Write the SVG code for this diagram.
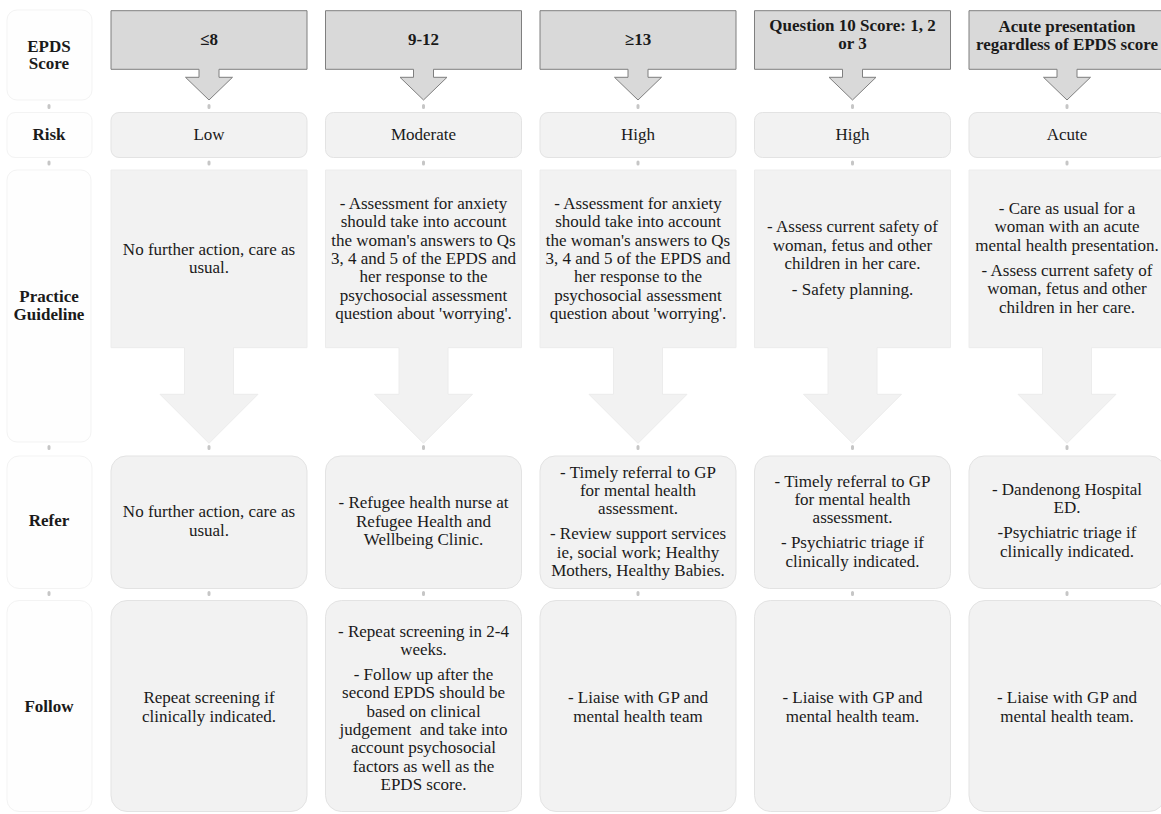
<svg xmlns="http://www.w3.org/2000/svg" width="1161" height="814" viewBox="0 0 1161 814">
<style>
.hdr{fill:#d9d9d9;stroke:#7f7f7f;stroke-width:1}
.row{fill:#f2f2f2;stroke:#e3e3e3;stroke-width:1}
.pg{fill:#f2f2f2;stroke:#ececec;stroke-width:1}
.lbl{fill:#fefefe;stroke:#f3f3f3;stroke-width:1}
.t{font-family:'Liberation Serif','Times New Roman',Tinos,'DejaVu Serif',serif;font-size:17px;fill:#1a1a1a;text-anchor:middle}
.b{font-weight:bold}
.port{stroke:#c6c6c6;stroke-width:3;stroke-linecap:round}
</style>
<rect width="1161" height="814" fill="#ffffff"/>
<g font-family="Liberation Serif, Times New Roman, serif" font-size="17" text-anchor="middle" fill="#1a1a1a">

<g id="label-epds">
<rect class="lbl" x="7" y="10" width="85" height="90" rx="10"/>
<text class="t b"><tspan x="49" y="51.5">EPDS</tspan><tspan x="49" y="68.5">Score</tspan></text>
</g>
<g id="label-risk">
<rect class="lbl" x="7" y="112.5" width="85" height="45" rx="8"/>
<text class="t b" x="49" y="140">Risk</text>
</g>
<g id="label-practice">
<rect class="lbl" x="7" y="170" width="84" height="272" rx="10"/>
<text class="t b"><tspan x="49" y="301.7">Practice</tspan><tspan x="49" y="320">Guideline</tspan></text>
</g>
<g id="label-refer">
<rect class="lbl" x="7" y="456" width="85" height="132.5" rx="12"/>
<text class="t b" x="49" y="526">Refer</text>
</g>
<g id="label-follow">
<rect class="lbl" x="7" y="600.5" width="85" height="211" rx="12"/>
<text class="t b" x="49" y="712">Follow</text>
</g>

<g id="score-1">
<path class="hdr" d="M111,10.7 H307 V69.3 H219 V77.3 H232.5 L209,100 L185.5,77.3 H199 V69.3 H111 Z"/>
<text class="t b" x="209" y="45">≤8</text>
</g>
<g id="score-2">
<path class="hdr" d="M325.5,10.7 H521.5 V69.3 H433.5 V77.3 H447 L423.5,100 L400,77.3 H413.5 V69.3 H325.5 Z"/>
<text class="t b" x="423.5" y="45">9-12</text>
</g>
<g id="score-3">
<path class="hdr" d="M540,10.7 H736 V69.3 H648 V77.3 H661.5 L638,100 L614.5,77.3 H628 V69.3 H540 Z"/>
<text class="t b" x="638" y="45">≥13</text>
</g>
<g id="score-4">
<path class="hdr" d="M754.5,10.7 H950.5 V69.3 H862.5 V77.3 H876 L852.5,100 L829,77.3 H842.5 V69.3 H754.5 Z"/>
<text class="t b"><tspan x="852.5" y="30.5">Question 10 Score: 1, 2</tspan><tspan x="852.5" y="48.5">or 3</tspan></text>
</g>
<g id="score-5">
<path class="hdr" d="M969,10.7 H1165 V69.3 H1077 V77.3 H1090.5 L1067,100 L1043.5,77.3 H1057 V69.3 H969 Z"/>
<text class="t b"><tspan x="1067" y="31.5">Acute presentation</tspan><tspan x="1067" y="49.5">regardless of EPDS score</tspan></text>
</g>

<g id="risk-1"><rect class="row" x="111" y="112.5" width="196" height="45" rx="8"/><text class="t" x="209" y="140">Low</text></g>
<g id="risk-2"><rect class="row" x="325.5" y="112.5" width="196" height="45" rx="8"/><text class="t" x="423.5" y="140">Moderate</text></g>
<g id="risk-3"><rect class="row" x="540" y="112.5" width="196" height="45" rx="8"/><text class="t" x="638" y="140">High</text></g>
<g id="risk-4"><rect class="row" x="754.5" y="112.5" width="196" height="45" rx="8"/><text class="t" x="852.5" y="140">High</text></g>
<g id="risk-5"><rect class="row" x="969" y="112.5" width="196" height="45" rx="8"/><text class="t" x="1067" y="140">Acute</text></g>

<g id="practice-1">
<path class="pg" d="M111,170 H307 V347.7 H233.5 V394.3 H258 L209,443.3 L160,394.3 H184.5 V347.7 H111 Z"/>
<text class="t"><tspan x="209" y="255">No further action, care as</tspan><tspan x="209" y="273.3">usual.</tspan></text>
</g>
<g id="practice-2">
<path class="pg" d="M325.5,170 H521.5 V347.7 H448 V394.3 H472.5 L423.5,443.3 L374.5,394.3 H399 V347.7 H325.5 Z"/>
<text class="t"><tspan x="423.5" y="209">- Assessment for anxiety</tspan><tspan x="423.5" y="227.3">should take into account</tspan><tspan x="423.5" y="245.7">the woman's answers to Qs</tspan><tspan x="423.5" y="264">3, 4 and 5 of the EPDS and</tspan><tspan x="423.5" y="282.3">her response to the</tspan><tspan x="423.5" y="300.7">psychosocial assessment</tspan><tspan x="423.5" y="319">question about 'worrying'.</tspan></text>
</g>
<g id="practice-3">
<path class="pg" d="M540,170 H736 V347.7 H662.5 V394.3 H687 L638,443.3 L589,394.3 H613.5 V347.7 H540 Z"/>
<text class="t"><tspan x="638" y="209">- Assessment for anxiety</tspan><tspan x="638" y="227.3">should take into account</tspan><tspan x="638" y="245.7">the woman's answers to Qs</tspan><tspan x="638" y="264">3, 4 and 5 of the EPDS and</tspan><tspan x="638" y="282.3">her response to the</tspan><tspan x="638" y="300.7">psychosocial assessment</tspan><tspan x="638" y="319">question about 'worrying'.</tspan></text>
</g>
<g id="practice-4">
<path class="pg" d="M754.5,170 H950.5 V347.7 H877 V394.3 H901.5 L852.5,443.3 L803.5,394.3 H828 V347.7 H754.5 Z"/>
<text class="t"><tspan x="852.5" y="232.3">- Assess current safety of</tspan><tspan x="852.5" y="250.7">woman, fetus and other</tspan><tspan x="852.5" y="269">children in her care.</tspan><tspan x="852.5" y="294.5">- Safety planning.</tspan></text>
</g>
<g id="practice-5">
<path class="pg" d="M969,170 H1165 V347.7 H1091.5 V394.3 H1116 L1067,443.3 L1018,394.3 H1042.5 V347.7 H969 Z"/>
<text class="t"><tspan x="1067" y="214">- Care as usual for a</tspan><tspan x="1067" y="232.3">woman with an acute</tspan><tspan x="1067" y="250.7">mental health presentation.</tspan><tspan x="1067" y="276">- Assess current safety of</tspan><tspan x="1067" y="294.3">woman, fetus and other</tspan><tspan x="1067" y="312.7">children in her care.</tspan></text>
</g>

<g id="refer-1"><rect class="row" x="111" y="456" width="196" height="132.5" rx="15"/>
<text class="t"><tspan x="209" y="517.3">No further action, care as</tspan><tspan x="209" y="535.7">usual.</tspan></text></g>
<g id="refer-2"><rect class="row" x="325.5" y="456" width="196" height="132.5" rx="15"/>
<text class="t"><tspan x="423.5" y="508.3">- Refugee health nurse at</tspan><tspan x="423.5" y="526.7">Refugee Health and</tspan><tspan x="423.5" y="545">Wellbeing Clinic.</tspan></text></g>
<g id="refer-3"><rect class="row" x="540" y="456" width="196" height="132.5" rx="15"/>
<text class="t"><tspan x="638" y="477.7">- Timely referral to GP</tspan><tspan x="638" y="496">for mental health</tspan><tspan x="638" y="514.3">assessment.</tspan><tspan x="638" y="539.3">- Review support services</tspan><tspan x="638" y="557.7">ie, social work; Healthy</tspan><tspan x="638" y="576">Mothers, Healthy Babies.</tspan></text></g>
<g id="refer-4"><rect class="row" x="754.5" y="456" width="196" height="132.5" rx="15"/>
<text class="t"><tspan x="852.5" y="486.7">- Timely referral to GP</tspan><tspan x="852.5" y="505">for mental health</tspan><tspan x="852.5" y="523.3">assessment.</tspan><tspan x="852.5" y="548.3">- Psychiatric triage if</tspan><tspan x="852.5" y="566.7">clinically indicated.</tspan></text></g>
<g id="refer-5"><rect class="row" x="969" y="456" width="196" height="132.5" rx="15"/>
<text class="t"><tspan x="1067" y="495">- Dandenong Hospital</tspan><tspan x="1067" y="513.3">ED.</tspan><tspan x="1067" y="538.3">-Psychiatric triage if</tspan><tspan x="1067" y="556.7">clinically indicated.</tspan></text></g>

<g id="follow-1"><rect class="row" x="111" y="600.5" width="196" height="211" rx="16"/>
<text class="t"><tspan x="209" y="703.3">Repeat screening if</tspan><tspan x="209" y="721.7">clinically indicated.</tspan></text></g>
<g id="follow-2"><rect class="row" x="325.5" y="600.5" width="196" height="211" rx="16"/>
<text class="t" xml:space="preserve"><tspan x="423.5" y="636.7">- Repeat screening in 2-4</tspan><tspan x="423.5" y="655">weeks.</tspan><tspan x="423.5" y="680">- Follow up after the</tspan><tspan x="423.5" y="698.3">second EPDS should be</tspan><tspan x="423.5" y="716.7">based on clinical</tspan><tspan x="423.5" y="735">judgement  and take into</tspan><tspan x="423.5" y="753.3">account psychosocial</tspan><tspan x="423.5" y="771.7">factors as well as the</tspan><tspan x="423.5" y="790">EPDS score.</tspan></text></g>
<g id="follow-3"><rect class="row" x="540" y="600.5" width="196" height="211" rx="16"/>
<text class="t"><tspan x="638" y="703.3">- Liaise with GP and</tspan><tspan x="638" y="721.7">mental health team</tspan></text></g>
<g id="follow-4"><rect class="row" x="754.5" y="600.5" width="196" height="211" rx="16"/>
<text class="t"><tspan x="852.5" y="703.3">- Liaise with GP and</tspan><tspan x="852.5" y="721.7">mental health team.</tspan></text></g>
<g id="follow-5"><rect class="row" x="969" y="600.5" width="196" height="211" rx="16"/>
<text class="t"><tspan x="1067" y="703.3">- Liaise with GP and</tspan><tspan x="1067" y="721.7">mental health team.</tspan></text></g>
</g>

<g id="connectors" class="port">
<path d="M49,105.5 V107.5 M209,105.5 V107.5 M423.5,105.5 V107.5 M638,105.5 V107.5 M852.5,105.5 V107.5 M1067,105.5 V107.5"/>
<path d="M49,162 V164 M209,162 V164 M423.5,162 V164 M638,162 V164 M852.5,162 V164 M1067,162 V164"/>
<path d="M49,446.5 V448.5 M209,446.5 V448.5 M423.5,446.5 V448.5 M638,446.5 V448.5 M852.5,446.5 V448.5 M1067,446.5 V448.5"/>
<path d="M49,592.5 V594.5 M209,592.5 V594.5 M423.5,592.5 V594.5 M638,592.5 V594.5 M852.5,592.5 V594.5 M1067,592.5 V594.5"/>
</g>
</svg>
